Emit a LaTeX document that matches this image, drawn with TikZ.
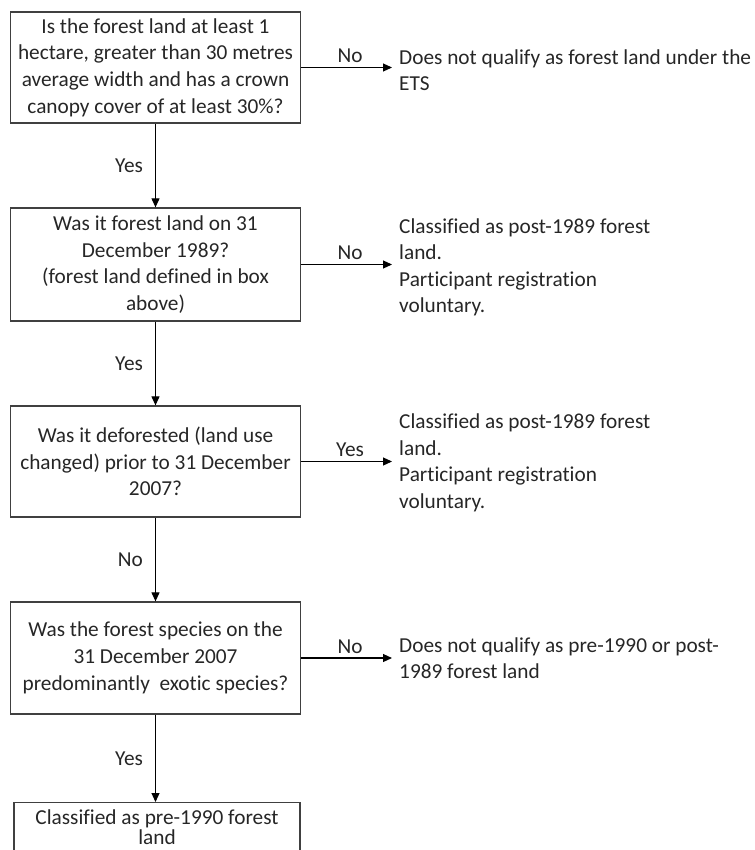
\documentclass[tikz,border=0pt]{standalone}
\usepackage{fontspec}
\setmainfont{Carlito}[Ligatures=NoCommon]
\usetikzlibrary{arrows.meta}
\begin{document}
\begin{tikzpicture}[x=1pt,y=-1pt,
  qbox/.style={draw=black!75, line width=1.3pt, rectangle, inner sep=0pt,
    minimum width=290pt, minimum height=111pt, align=center, text=black!85,
    font=\fontsize{21.3}{26.7}\selectfont},
  side/.style={anchor=west, align=left, inner sep=0pt, text=black!85,
    font=\fontsize{21.3}{26.5}\selectfont},
  lbl/.style={inner sep=0pt, text=black!85, font=\fontsize{21.3}{24}\selectfont},
  arr/.style={-{Triangle[length=9pt,width=8pt]}, line width=1.1pt, draw=black}]
\useasboundingbox (0,0) rectangle (754,850);

\node[qbox] (q1) at (155.5,67.5) {Is the forest land at least 1\\hectare, greater than 30 metres\\average width and has a crown\\canopy cover of at least 30\%?};
\node[qbox, minimum height=113pt] (q2) at (155.5,264.5) {Was it forest land on 31\\December 1989?\\(forest land defined in box\\above)};
\node[qbox] (q3) at (155.5,461.5) {Was it deforested (land use\\changed) prior to 31 December\\2007?};
\node[qbox, minimum height=112pt] (q4) at (155.5,658) {Was the forest species on the\\31 December 2007\\predominantly\ \ exotic species?};
\node[qbox, minimum width=286pt, minimum height=70pt, anchor=north] (q5) at (157,802) {};
\node[align=center, inner sep=0pt, text=black!85, font=\fontsize{21.3}{20}\selectfont] (t5) at (157,827) {Classified as pre-1990 forest\\land};

\node[side] (r1) at (399,70) {Does not qualify as forest land under the\\ETS};
\node[side] (r2) at (399,267.5) {Classified as post-1989 forest\\land.\\Participant registration\\voluntary.};
\node[side] (r3) at (399,463) {Classified as post-1989 forest\\land.\\Participant registration\\voluntary.};
\node[side] (r4) at (399,658) {Does not qualify as pre-1990 or post-\\1989 forest land};

\draw[arr, shorten >=7pt] (q1.east) -- (q1.east -| r1.west) node[lbl, midway, anchor=south, yshift=4pt] {No};
\draw[arr, shorten >=7pt] (q2.east) -- (q2.east -| r2.west) node[lbl, midway, anchor=south, yshift=4pt] {No};
\draw[arr, shorten >=7pt] (q3.east) -- (q3.east -| r3.west) node[lbl, midway, anchor=south, yshift=4pt] {Yes};
\draw[arr, shorten >=7pt] (q4.east) -- (q4.east -| r4.west) node[lbl, midway, anchor=south, yshift=4pt] {No};

\draw[arr] (q1.south) -- (q1.south |- q2.north) node[lbl, midway, anchor=east, xshift=-12pt] {Yes};
\draw[arr] (q2.south) -- (q2.south |- q3.north) node[lbl, midway, anchor=east, xshift=-12pt] {Yes};
\draw[arr] (q3.south) -- (q3.south |- q4.north) node[lbl, midway, anchor=east, xshift=-12pt] {No};
\draw[arr] (q4.south) -- (q4.south |- q5.north) node[lbl, midway, anchor=east, xshift=-12pt] {Yes};
\end{tikzpicture}
\end{document}
